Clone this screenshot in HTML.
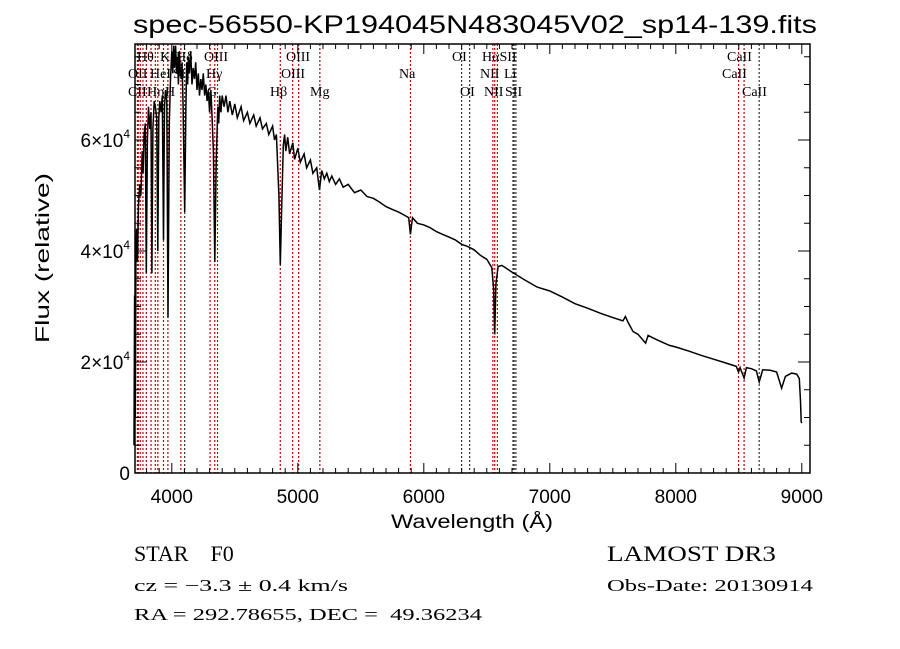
<!DOCTYPE html>
<html><head><meta charset="utf-8"><style>
html,body{margin:0;padding:0;background:#fff;}
svg{display:block;font-family:"Liberation Sans",sans-serif;}
.lab{font-family:"Liberation Serif",serif;font-size:14px;fill:#000;}
text{white-space:pre;}
</style></head><body>
<svg id="chart" width="900" height="649" viewBox="0 0 900 649">
<rect width="900" height="649" fill="#fff"/>
<text x="133" y="33" font-size="25" textLength="684" lengthAdjust="spacingAndGlyphs">spec-56550-KP194045N483045V02_sp14-139.fits</text>
<g id="lines"></g>
<g id="spec"></g>
<g id="axes"></g>
<text x="472" y="528" font-size="19" text-anchor="middle" textLength="162" lengthAdjust="spacingAndGlyphs">Wavelength (Å)</text>
<text transform="translate(49,258) rotate(-90)" font-size="19" text-anchor="middle" textLength="170" lengthAdjust="spacingAndGlyphs">Flux (relative)</text>
<g class="info" font-family="Liberation Serif, serif">
<text x="134" y="561" font-size="22" xml:space="preserve">STAR    F0</text>
<text x="134" y="591" font-size="17" textLength="214" lengthAdjust="spacingAndGlyphs">cz = −3.3 ± 0.4 km/s</text>
<text x="134" y="620" font-size="17" textLength="348" lengthAdjust="spacingAndGlyphs" xml:space="preserve">RA = 292.78655, DEC =  49.36234</text>
<text x="607" y="561" font-size="22" textLength="169" lengthAdjust="spacingAndGlyphs">LAMOST DR3</text>
<text x="607" y="591" font-size="17" textLength="206" lengthAdjust="spacingAndGlyphs">Obs-Date: 20130914</text>
</g>
</svg>
<script>
const wave = [3700,3705,3710,3715,3720,3728,3735,3745,3755,3765,3772,3780,3790,3798,3806,3815,3825,3835,3842,3850,3860,3870,3880,3889,3897,3905,3915,3925,3934,3942,3950,3960,3970,3980,3990,4000,4008,4015,4022,4030,4038,4045,4052,4060,4068,4075,4082,4090,4102,4112,4118,4125,4132,4140,4150,4160,4170,4180,4190,4200,4210,4220,4230,4240,4250,4260,4270,4280,4290,4300,4310,4320,4330,4341,4352,4365,4372,4380,4390,4400,4415,4430,4445,4460,4480,4500,4520,4550,4570,4600,4620,4650,4670,4700,4720,4750,4770,4800,4815,4830,4850,4861,4872,4885,4895,4905,4920,4935,4960,4975,5000,5020,5050,5070,5100,5120,5150,5172,5190,5210,5230,5250,5270,5300,5330,5360,5400,5450,5500,5550,5600,5650,5700,5750,5800,5850,5880,5894,5910,5950,6000,6050,6100,6150,6200,6250,6300,6350,6400,6450,6500,6540,6555,6563,6572,6590,6620,6700,6800,6900,7000,7100,7200,7300,7400,7500,7580,7600,7620,7660,7700,7760,7780,7850,7950,8000,8100,8200,8300,8400,8480,8498,8510,8542,8560,8600,8640,8662,8690,8750,8800,8840,8870,8920,8960,8980,8990,8995,9000];
const flux = [0.5,3.2,1.0,4.0,4.4,3.8,4.8,5.2,5.0,5.8,5.4,6.1,6.3,3.6,6.0,6.6,6.2,6.5,3.6,6.2,6.7,6.6,6.4,4.0,6.4,6.7,6.5,6.8,4.2,6.6,6.9,6.7,2.8,6.3,7.1,7.6,7.2,7.7,7.3,7.7,7.2,7.5,7.0,7.6,7.2,7.1,7.4,6.6,4.7,6.6,7.4,7.0,7.5,7.2,7.6,7.0,7.3,7.1,7.4,6.9,7.2,6.8,7.1,6.9,7.2,6.8,7.0,6.7,6.9,6.5,6.9,6.4,5.8,3.8,5.6,6.6,6.3,6.8,6.5,6.8,6.6,6.8,6.5,6.7,6.45,6.65,6.4,6.6,6.35,6.5,6.3,6.45,6.25,6.4,6.2,6.3,6.1,6.25,6.0,6.1,5.0,3.75,4.8,5.9,6.1,5.8,6.05,5.75,5.95,5.65,5.85,5.6,5.75,5.5,5.64,5.4,5.5,5.1,5.45,5.3,5.4,5.25,5.35,5.2,5.3,5.15,5.2,5.05,5.1,4.98,4.95,4.88,4.8,4.75,4.7,4.64,4.6,4.3,4.6,4.5,4.47,4.42,4.35,4.3,4.25,4.2,4.12,4.08,4.02,3.92,3.85,3.7,3.3,2.5,3.4,3.72,3.74,3.62,3.48,3.35,3.28,3.17,3.05,2.97,2.88,2.8,2.74,2.82,2.72,2.55,2.5,2.34,2.48,2.4,2.3,2.27,2.2,2.12,2.05,1.98,1.92,1.82,1.9,1.71,1.9,1.88,1.84,1.64,1.86,1.85,1.82,1.53,1.74,1.8,1.78,1.7,1.3,0.92,0.9];
const lineWave = [3727,3734,3750,3771,3798,3835,3869,3889,3934,3969,4072,4102,4304,4341,4363,4861,4959,5007,5175,5894,6300,6364,6548,6563,6584,6708,6717,6731,8498,8542,8662];
const lineDark = [0,0,0,0,0,0,0,0,0,0,0,1,0,0,0,0,0,0,0,0,1,1,0,0,0,1,1,1,0,0,1];
const labelText = ["Hθ","K","Hδ","OIII","OIII","OI","HαSII","CaII","OII","HeI","SII","Hγ","OIII","Na","NII","Li","CaII","CII","Hη","H","G","Hβ","Mg","OI","NII","SII","CaII"];
const labelX = [137,160,176,204,286,452,482,727,128,150,173,206,281,399,480,504,722,128,147,165,207,270,310,460,484,505,742];
const labelRow = [0,0,0,0,0,0,0,0,1,1,1,1,1,1,1,1,1,2,2,2,2,2,2,2,2,2,2];
const xTicks = [4000,5000,6000,7000,8000,9000];
const yTicks = [0,2,4,6];

const L=135,R=810,T=44,B=473;
const xs = w => 134 + (w-3700)*0.126;
const ys = f => 473 - f*55.5;
const NS="http://www.w3.org/2000/svg";
function mk(tag, attrs, parent){const e=document.createElementNS(NS,tag);for(const k in attrs)e.setAttribute(k,attrs[k]);parent.appendChild(e);return e;}

const gl=document.getElementById('lines');
lineWave.forEach((w,i)=>{
  const ln=mk('line',{x1:xs(w),x2:xs(w),y1:T,y2:B,stroke:lineDark[i]?'#333':'#c00000','stroke-width':1.2,'stroke-dasharray':'2,2'},gl);
  
  
});
const rowY=[61,78,96];
labelText.forEach((t,i)=>{
  const tx=mk('text',{x:labelX[i],y:rowY[labelRow[i]],class:'lab'},gl);
  tx.textContent=t;
  
  
});

const gs=document.getElementById('spec');
let d='';
wave.forEach((w,i)=>{d+=(i?'L':'M')+xs(w).toFixed(1)+','+Math.min(B,ys(flux[i])).toFixed(1);});
const p=mk('path',{d:d,fill:'none',stroke:'#000','stroke-width':1.5,'stroke-linejoin':'miter'},gs);



const ga=document.getElementById('axes');
const box=mk('rect',{x:L,y:T,width:R-L,height:B-T,fill:'none',stroke:'#000','stroke-width':1.5},ga);


for(let w=3800;w<=9050;w+=100){
  const maj=w%1000===0;const len=maj?10:5;
  mk('line',{x1:xs(w),x2:xs(w),y1:B,y2:B-len,stroke:'#000','stroke-width':1},ga);
  mk('line',{x1:xs(w),x2:xs(w),y1:T,y2:T+len,stroke:'#000','stroke-width':1},ga);
}
xTicks.forEach(w=>{
  const t=mk('text',{x:xs(w),y:503,'font-size':19,'text-anchor':'middle'},ga);
  t.textContent=w;
  
  
});
for(let f=0;f<=7.6;f+=0.5){
  const maj=Math.abs(f%2)<1e-6;const len=maj?12:6;
  mk('line',{x1:L,x2:L+len,y1:ys(f),y2:ys(f),stroke:'#000','stroke-width':1},ga);
  mk('line',{x1:R,x2:R-len,y1:ys(f),y2:ys(f),stroke:'#000','stroke-width':1},ga);
}
yTicks.forEach(f=>{
  const t=mk('text',{x:130,y:ys(f)+7,'font-size':19,'text-anchor':'end'},ga);
  if(f===0){t.textContent='0';}
  else{t.textContent=f+'×10';const s=document.createElementNS(NS,'tspan');s.setAttribute('dy','-9');s.setAttribute('font-size','12');s.textContent='4';t.appendChild(s);}
  
  
});
</script>
</body></html>
